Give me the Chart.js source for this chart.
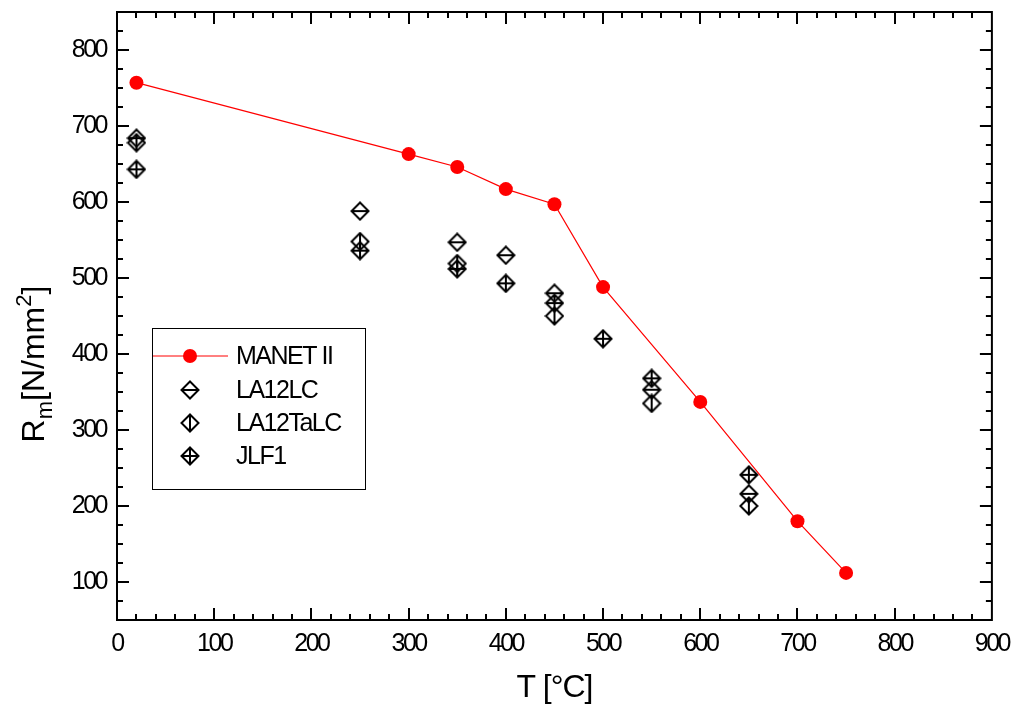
<!DOCTYPE html>
<html>
<head>
<meta charset="utf-8">
<script src="https://cdn.jsdelivr.net/npm/chart.js@4"></script>
<style>
  html, body { margin: 0; padding: 0; background: #fff; }
  #wrap { width: 1018px; height: 709px; position: relative; }
</style>
</head>
<body>
<div id="wrap"><canvas id="rmChart"></canvas></div>
<script>
// tensile strength Rm vs temperature
const manetT = [20, 300, 350, 400, 450, 500, 600, 700, 750];
const manetRm = [757, 663, 646, 617, 597, 488, 337, 180, 112];

const la12lcT = [20, 250, 350, 400, 450, 550, 650];
const la12lcRm = [684, 588, 547, 530, 480, 353, 216];

const la12talcT = [20, 250, 350, 450, 550, 650];
const la12talcRm = [678, 548, 519, 450, 335, 200];

const jlf1T = [20, 250, 350, 400, 450, 500, 550, 650];
const jlf1Rm = [643, 536, 512, 493, 467, 420, 368, 241];

const xTicks = [0, 100, 200, 300, 400, 500, 600, 700, 800, 900];
const yTicks = [100, 200, 300, 400, 500, 600, 700, 800];

const FONT = '"Liberation Sans", Arial, sans-serif';

function pts(xs, ys) {
    return xs.map((x, i) => ({ x: x, y: ys[i] }));
}

// open diamond with inner lines
function makeMarker(h, v) {
    let c = document.createElement('canvas');
    c.width = 20;
    c.height = 20;
    let g = c.getContext('2d');
    g.strokeStyle = '#000';
    g.lineWidth = 2;
    g.beginPath();
    g.moveTo(10, 1.5);
    g.lineTo(18.5, 10);
    g.lineTo(10, 18.5);
    g.lineTo(1.5, 10);
    g.closePath();
    g.stroke();
    g.beginPath();
    if (h) { g.moveTo(2, 10); g.lineTo(18, 10); }
    if (v) { g.moveTo(10, 2); g.lineTo(10, 18); }
    g.stroke();
    return c;
}

const mkLC = makeMarker(true, false);
const mkTaLC = makeMarker(false, true);
const mkJLF = makeMarker(true, true);

// inward ticks + frame, like the original plot
const framePlugin = {
    id: 'frame',
    beforeUpdate(chart) { chart.ctx.letterSpacing = '-2.5px'; },
    beforeDraw(chart) { chart.ctx.letterSpacing = '-2.5px'; },
    afterDraw(chart) {
        const ctx = chart.ctx;
        const a = chart.chartArea;
        const xs = chart.scales.x, ys = chart.scales.y;
        ctx.save();
        ctx.strokeStyle = '#000';
        ctx.lineWidth = 2;
        ctx.beginPath();
        for (let v = 20; v < 900; v += 20) {
            let px = Math.round(xs.getPixelForValue(v));
            let len = v % 100 === 0 ? 12 : 6;
            ctx.moveTo(px, a.bottom); ctx.lineTo(px, a.bottom - len);
            ctx.moveTo(px, a.top); ctx.lineTo(px, a.top + len);
        }
        for (let v = 75; v < 850; v += 25) {
            let py = Math.round(ys.getPixelForValue(v));
            let len = v % 100 === 0 ? 12 : 6;
            ctx.moveTo(a.left, py); ctx.lineTo(a.left + len, py);
            ctx.moveTo(a.right, py); ctx.lineTo(a.right - len, py);
        }
        ctx.stroke();
        ctx.strokeRect(a.left, a.top, a.right - a.left, a.bottom - a.top);

        // axis titles
        ctx.fillStyle = '#000';
        ctx.letterSpacing = '-1px';
        ctx.font = '32px ' + FONT;
        ctx.textAlign = 'center';
        ctx.textBaseline = 'middle';
        ctx.fillText('T [°C]', (a.left + a.right) / 2, 688);

        ctx.save();
        ctx.translate(33, 364);
        ctx.rotate(-Math.PI / 2);
        ctx.letterSpacing = '0px';
        ctx.textAlign = 'left';
        ctx.textBaseline = 'alphabetic';
        const big = '32px ' + FONT, small = '22px ' + FONT;
        const parts = [
            ['R', big, 0], ['m', small, 8], ['[N/mm', big, 0], ['2', small, -13], [']', big, 0]
        ];
        let total = 0;
        parts.forEach(p => { ctx.font = p[1]; total += ctx.measureText(p[0]).width; });
        let x = -total / 2;
        parts.forEach(p => {
            ctx.font = p[1];
            ctx.fillText(p[0], x, 11 + p[2]);
            x += ctx.measureText(p[0]).width;
        });
        ctx.restore();

        // legend box
        ctx.fillStyle = '#fff';
        ctx.fillRect(152, 328, 213, 161);
        ctx.lineWidth = 1;
        ctx.strokeRect(152.5, 328.5, 213, 161);
        const rows = [
            ['MANET II', null, 356],
            ['LA12LC', mkLC, 390],
            ['LA12TaLC', mkTaLC, 423],
            ['JLF1', mkJLF, 456]
        ];
        rows.forEach(r => {
            if (r[1] === null) {
                ctx.strokeStyle = '#ff0000';
                ctx.lineWidth = 1;
                ctx.beginPath();
                ctx.moveTo(153, r[2]);
                ctx.lineTo(228, r[2]);
                ctx.stroke();
                ctx.fillStyle = '#ff0000';
                ctx.beginPath();
                ctx.arc(190, r[2], 7, 0, Math.PI * 2);
                ctx.fill();
            } else {
                ctx.drawImage(r[1], 180, r[2] - 10);
            }
            ctx.fillStyle = '#000';
            ctx.letterSpacing = '-1.5px';
            ctx.font = '25px ' + FONT;
            ctx.textAlign = 'left';
            ctx.textBaseline = 'middle';
            ctx.fillText(r[0], 236, r[2] + 1);
        });
        ctx.restore();
    }
};

let ctx = document.getElementById('rmChart').getContext('2d');
let rmChart = new Chart(ctx, {
    type: 'scatter',
    data: {
        datasets: [{
            label: 'MANET II',
            data: pts(manetT, manetRm),
            showLine: true,
            borderColor: '#ff0000',
            borderWidth: 1.2,
            backgroundColor: '#ff0000',
            pointRadius: 7,
            pointBorderWidth: 0,
            pointStyle: 'circle'
        }, {
            label: 'LA12LC',
            data: pts(la12lcT, la12lcRm),
            pointStyle: mkLC
        }, {
            label: 'LA12TaLC',
            data: pts(la12talcT, la12talcRm),
            pointStyle: mkTaLC
        }, {
            label: 'JLF1',
            data: pts(jlf1T, jlf1Rm),
            pointStyle: mkJLF
        }]
    },
    options: {
        responsive: true,
        maintainAspectRatio: false,
        animation: false,
        layout: { padding: { top: 12, right: 26, left: 0, bottom: 0 } },
        plugins: {
            legend: { display: false },
            tooltip: { enabled: false }
        },
        scales: {
            x: {
                type: 'linear',
                min: 0,
                max: 900,
                afterBuildTicks: s => { s.ticks = xTicks.map(v => ({ value: v })); },
                afterFit: s => { s.height = 89; },
                grid: { display: false, drawTicks: false },
                border: { display: false },
                ticks: { color: '#000', font: { family: FONT, size: 25 }, padding: 9, maxRotation: 0, autoSkip: false }
            },
            y: {
                type: 'linear',
                min: 50,
                max: 850,
                afterBuildTicks: s => { s.ticks = yTicks.map(v => ({ value: v })); },
                afterFit: s => { s.width = 117; s.paddingTop = 0; s.paddingBottom = 0; },
                grid: { display: false, drawTicks: false },
                border: { display: false },
                ticks: { color: '#000', font: { family: FONT, size: 25 }, padding: 11, autoSkip: false }
            }
        }
    },
    plugins: [framePlugin]
});
</script>
</body>
</html>
